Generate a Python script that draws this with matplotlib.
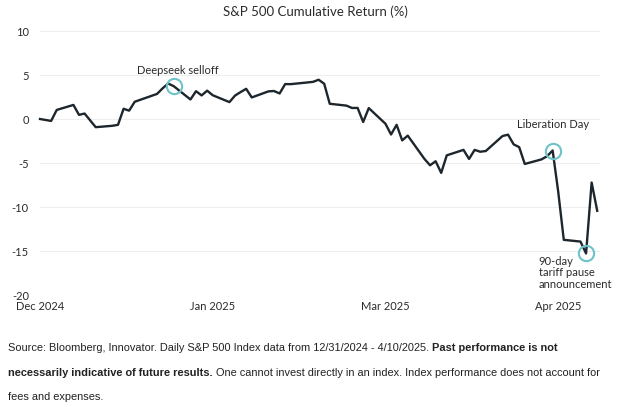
import matplotlib
matplotlib.use("Agg")
import matplotlib.pyplot as plt
import pandas as pd

# Cumulative return of the S&P 500 since 12/31/2024 (%)
dates = [
    "2024-12-31", "2025-01-02", "2025-01-03", "2025-01-06", "2025-01-07", "2025-01-08",
    "2025-01-10", "2025-01-13", "2025-01-14", "2025-01-15", "2025-01-16", "2025-01-17",
    "2025-01-21", "2025-01-22", "2025-01-23", "2025-01-24", "2025-01-27", "2025-01-28",
    "2025-01-29", "2025-01-30", "2025-01-31", "2025-02-03", "2025-02-04", "2025-02-05",
    "2025-02-06", "2025-02-07", "2025-02-10", "2025-02-11", "2025-02-12", "2025-02-13",
    "2025-02-14", "2025-02-18", "2025-02-19", "2025-02-20", "2025-02-21", "2025-02-24",
    "2025-02-25", "2025-02-26", "2025-02-27", "2025-02-28", "2025-03-03", "2025-03-04",
    "2025-03-05", "2025-03-06", "2025-03-07", "2025-03-10", "2025-03-11", "2025-03-12",
    "2025-03-13", "2025-03-14", "2025-03-17", "2025-03-18", "2025-03-19", "2025-03-20",
    "2025-03-21", "2025-03-24", "2025-03-25", "2025-03-26", "2025-03-27", "2025-03-28",
    "2025-03-31", "2025-04-01", "2025-04-02", "2025-04-03", "2025-04-04", "2025-04-07",
    "2025-04-08", "2025-04-09", "2025-04-10",
]
cum_return = [
    0.00, -0.22, 1.03, 1.60, 0.47, 0.62,
    -0.93, -0.77, -0.66, 1.16, 0.95, 1.96,
    2.85, 3.48, 4.03, 3.73, 2.22, 3.16,
    2.68, 3.22, 2.70, 1.92, 2.66, 3.06,
    3.43, 2.45, 3.14, 3.18, 2.90, 3.97,
    3.96, 4.22, 4.46, 4.01, 1.73, 1.52,
    1.25, 1.26, -0.34, 1.24, -0.54, -1.76,
    -0.66, -2.43, -1.89, -4.54, -5.26, -4.80,
    -6.12, -4.13, -3.51, -4.54, -3.51, -3.72,
    -3.64, -1.94, -1.78, -2.88, -3.20, -5.11,
    -4.59, -4.23, -3.58, -8.25, -13.73, -13.93,
    -15.28, -7.22, -10.43,
]

# circled points
events = ["2025-01-24", "2025-04-02", "2025-04-08"]

tick_dates = ["2024-12-31", "2025-01-31", "2025-03-03", "2025-04-03"]
tick_labels = ["Dec 2024", "Jan 2025", "Mar 2025", "Apr 2025"]
y_ticks = [-20, -15, -10, -5, 0, 5, 10]

LINE = "#1d262c"
TEAL = "#6cc3c8"
GRID = "#eeeeee"
TXT = "#2b2b2b"
FONT = ["Lato", "DejaVu Sans"]
NOTE_FONT = ["Liberation Sans", "DejaVu Sans"]

x = pd.to_datetime(dates)
s = pd.Series(cum_return, index=x)

fig = plt.figure(figsize=(6.18, 4.07), dpi=100)
fig.patch.set_facecolor("white")
ax = fig.add_axes([40 / 618, 112 / 407, 560 / 618, 264 / 407])

ax.plot(s.index, s.values, color=LINE, lw=1.7, zorder=3, clip_on=False)

ev = pd.to_datetime(events)
ax.plot(ev, s.loc[ev].values, linestyle="none", marker="o", ms=11, mfc="none",
        mec=TEAL, mew=1.5, zorder=4, clip_on=False)

x0 = pd.Timestamp("2024-12-31")
ax.set_xlim(x0, x0 + pd.Timedelta(days=100.5))
ax.set_ylim(-20, 10)
ax.set_yticks(y_ticks)
ax.set_yticklabels([str(v) for v in y_ticks], fontfamily=FONT, fontsize=8, color=TXT)
ax.set_xticks(pd.to_datetime(tick_dates))
ax.set_xticklabels(tick_labels, fontfamily=FONT, fontsize=8, color=TXT)
ax.tick_params(axis="both", length=0)
ax.tick_params(axis="y", pad=8)
ax.tick_params(axis="x", pad=4)
ax.grid(axis="y", color=GRID, lw=0.8)
ax.set_axisbelow(True)
for sp in ax.spines.values():
    sp.set_visible(False)

ax.annotate("Deepseek selloff", (ev[0], s.loc[ev[0]]), xytext=(3, 11.5), textcoords="offset points",
            ha="center", va="center", fontsize=8, fontfamily=FONT, color=TXT)
ax.annotate("Liberation Day", (ev[1], s.loc[ev[1]]), xytext=(0, 19), textcoords="offset points",
            ha="center", va="center", fontsize=8, fontfamily=FONT, color=TXT)
ax.annotate("90-day\ntariff pause\nannouncement", (ev[2], s.loc[ev[2]]), xytext=(-34, -1.5),
            textcoords="offset points", ha="left", va="top", fontsize=8, fontfamily=FONT,
            color=TXT, linespacing=1.1)

fig.text(315 / 618, 1 - 12 / 407, "S&P 500 Cumulative Return (%)", ha="center", va="center",
         fontsize=9.5, fontfamily=FONT, color=TXT)

# footnote with bold runs placed one after another
note_lines = [
    [("Source: Bloomberg, Innovator. Daily S&P 500 Index data from 12/31/2024 - 4/10/2025. ", "normal"),
     ("Past performance is not", "bold")],
    [("necessarily indicative of future results.", "bold"),
     (" One cannot invest directly in an index. Index performance does not account for", "normal")],
    [("fees and expenses.", "normal")],
]
note_y = [348, 373, 397]
renderer = fig.canvas.get_renderer()
for runs, yy in zip(note_lines, note_y):
    xpos = 8
    for txt, w in runs:
        t = fig.text(xpos / 618, 1 - yy / 407, txt, ha="left", va="center", fontsize=7.9,
                     fontfamily=NOTE_FONT, fontweight=w, color="#222222")
        bb = t.get_window_extent(renderer=renderer)
        xpos += bb.width

fig.savefig("out.png", dpi=100, facecolor="white")
